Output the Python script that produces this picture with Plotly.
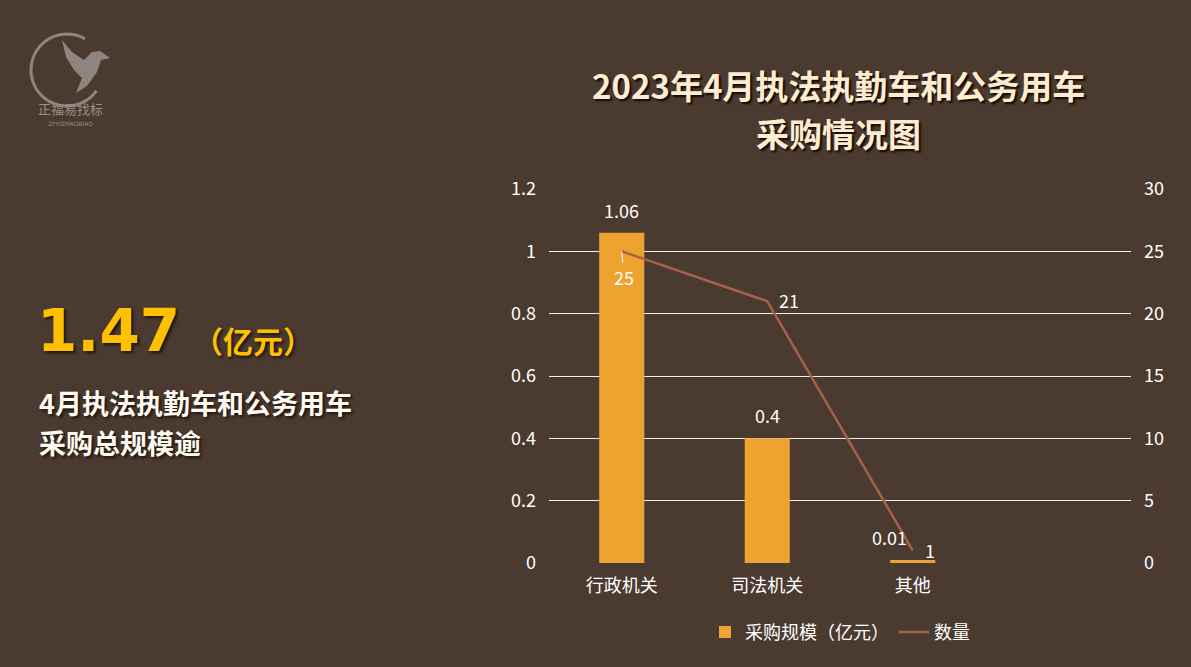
import math
import plotly.graph_objects as go

categories = ["行政机关", "司法机关", "其他", " "]
scale_values = [1.06, 0.4, 0.01, None]   # 采购规模（亿元）
count_values = [25, 21, 1, None]          # 数量
left_ticks = [0, 0.2, 0.4, 0.6, 0.8, 1, 1.2]
right_ticks = [0, 5, 10, 15, 20, 25, 30]

BG = "#4b3a30"
BAR = "#eea22f"
LINE = "#a5624b"
FONT = "Noto Sans CJK SC"
SHADOW = "2px 2px 3px #1e140e"

W, H = 1191, 667
L, R, T, B = 549, 60, 189, 104
pw, ph = W - L - R, H - T - B


def to_paper(x, y):
    return ((x - L) / pw, 1 - (y - T) / ph)


fig = go.Figure()
fig.add_trace(go.Bar(
    x=categories, y=scale_values, name="采购规模（亿元）",
    marker=dict(color=BAR, line=dict(width=0)), width=0.31, yaxis="y",
))
fig.add_trace(go.Scatter(
    x=categories, y=count_values, name="数量", mode="lines",
    line=dict(color=LINE, width=2.5), yaxis="y2",
))

annotations = []
bar_shift = [0, 0, -23]
for i, v in enumerate(scale_values):
    if v is None:
        continue
    annotations.append(dict(
        x=categories[i], y=v, xref="x", yref="y", text=f"{v:g}",
        showarrow=False, yanchor="bottom", yshift=8, xshift=bar_shift[i],
        font=dict(family=FONT, size=18, color="white"),
    ))
for i, v in enumerate(count_values):
    if v is None:
        continue
    if i == 0:
        annotations.append(dict(
            x=categories[i], y=v, xref="x", yref="y2", text=str(v),
            showarrow=True, arrowhead=0, arrowwidth=1, arrowcolor="white",
            ax=2, ay=26, font=dict(family=FONT, size=18, color="white"),
        ))
    else:
        annotations.append(dict(
            x=categories[i], y=v, xref="x", yref="y2", text=str(v),
            showarrow=False, xanchor="left", xshift=10, yshift=1,
            font=dict(family=FONT, size=18, color="white"),
        ))


def pix_note(px, py, text, font, xanchor="left", align="left"):
    x, y = to_paper(px, py)
    return dict(x=x, y=y, xref="paper", yref="paper", text=text, showarrow=False,
                xanchor=xanchor, yanchor="middle", align=align, borderpad=0, font=font)


TITLE_FONT = dict(family=FONT, size=33, color="#fdeccf", shadow="2px 2px 2px #120a05")
SUB_FONT = dict(family=FONT, size=27, color="#fffaf2", shadow=SHADOW)

annotations += [
    pix_note(36, 331, "<b>1.47</b>",
             dict(family="DejaVu Sans", size=58, color="#ffc000", shadow=SHADOW)),
    pix_note(192, 340, "<b>（亿元）</b>",
             dict(family=FONT, size=30, color="#ffc000", shadow=SHADOW)),
    pix_note(38, 402, "<b>4月执法执勤车和公务用车</b>", SUB_FONT),
    pix_note(38, 442, "<b>采购总规模逾</b>", SUB_FONT),
    pix_note(70, 108, "正福易找标", dict(family=FONT, size=13, color="#9a908a"), "center", "center"),
    pix_note(70, 124, "ZFYIZHAOBIAO", dict(family="DejaVu Sans", size=6, color="#9a908a"), "center", "center"),
    pix_note(838, 85, "<b>2023年4月执法执勤车和公务用车</b>", TITLE_FONT, "center", "center"),
    pix_note(838, 133, "<b>采购情况图</b>", TITLE_FONT, "center", "center"),
]

# logo: open circle arc + stylised bird
cx, cy, r = 67, 70, 36
arc = [to_paper(cx + r * math.cos(math.radians(35 + k)), cy + r * math.sin(math.radians(35 + k)))
       for k in range(0, 266, 5)]
shapes = [dict(type="path", xref="paper", yref="paper", layer="above",
               path="M " + " L ".join(f"{a:.5f},{b:.5f}" for a, b in arc),
               line=dict(color="#8f8580", width=3))]
bird = [(62, 40), (72, 52), (84, 60), (92, 52), (100, 51), (110, 58), (101, 60), (97, 72),
        (87, 86), (76, 93), (82, 78), (74, 70), (66, 57)]
bp = [to_paper(*q) for q in bird]
shapes.append(dict(type="path", xref="paper", yref="paper", layer="above",
                   path="M " + " L ".join(f"{a:.5f},{b:.5f}" for a, b in bp) + " Z",
                   fillcolor="#8f8580", line=dict(width=0)))

fig.update_layout(
    width=W, height=H,
    paper_bgcolor=BG, plot_bgcolor=BG,
    margin=dict(l=L, r=R, t=T, b=B),
    font=dict(family=FONT, size=18, color="white"),
    showlegend=True,
    legend=dict(orientation="h", x=0.5, xanchor="center", y=-0.185, yanchor="middle",
                font=dict(family=FONT, size=18, color="white"), bgcolor="rgba(0,0,0,0)",
                itemwidth=30),
    xaxis=dict(type="category", categoryorder="array", categoryarray=categories,
               showgrid=False, zeroline=False, showline=False, ticks="", ticklabelstandoff=10,
               tickfont=dict(family=FONT, size=18, color="white")),
    yaxis=dict(range=[0, 1.2], tickvals=left_ticks, ticktext=[f"{t:g}" for t in left_ticks],
               showgrid=True, gridcolor="#f2ede8", gridwidth=1, zeroline=False,
               showline=False, ticks="", ticklabelstandoff=12,
               tickfont=dict(family=FONT, size=18, color="white")),
    yaxis2=dict(range=[0, 30], tickvals=right_ticks, overlaying="y", side="right",
                showgrid=False, zeroline=False, showline=False, ticks="", ticklabelstandoff=12,
                tickfont=dict(family=FONT, size=18, color="white")),
    annotations=annotations,
    shapes=shapes,
)

fig.write_html("out.html", config={"displayModeBar": False},
               post_script="document.body.style.margin='0px';document.body.style.background='" + BG + "';")
